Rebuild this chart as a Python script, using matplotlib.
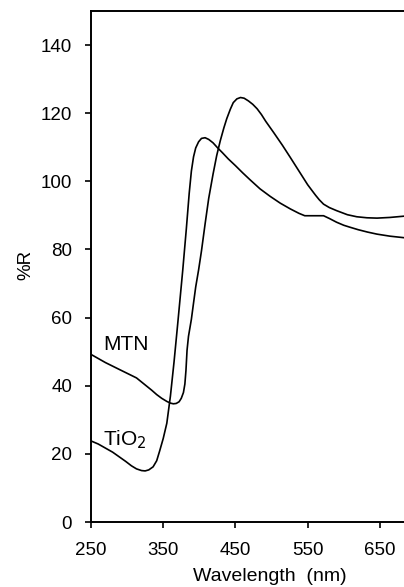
import matplotlib
matplotlib.use("Agg")
import matplotlib.pyplot as plt

# === Data ===
tio2_wl = [250, 260, 270, 280, 290, 298, 306, 313, 320, 325, 330, 336, 341,
           345, 350, 355, 360, 365, 370, 377, 382, 386, 389, 392, 395, 399,
           403, 408, 413, 419, 425, 432, 440, 450, 460, 470, 484, 498, 512,
           526, 538, 546, 572, 580, 590, 600, 609, 620, 633, 646, 664, 690]
tio2_r = [23.8, 22.9, 21.7, 20.5, 19.0, 17.8, 16.5, 15.6, 15.1, 15.0, 15.3,
          16.2, 18.0, 20.8, 24.5, 29.0, 37.0, 47.0, 58.0, 73.8, 86.0, 96.5,
          103.0, 107.2, 109.8, 111.6, 112.6, 112.8, 112.3, 111.3, 109.9,
          108.4, 106.6, 104.6, 102.5, 100.5, 97.8, 95.6, 93.6, 91.9, 90.6,
          89.9, 89.9, 89.1, 88.0, 87.1, 86.5, 85.8, 85.1, 84.5, 83.9, 83.3]

mtn_wl = [250, 270, 290, 313, 320, 327, 334, 341, 348, 355, 360, 364, 368,
          372, 375, 378, 380, 381.5, 383, 385, 387, 389, 391.5, 395, 399,
          403, 408, 413, 419, 424, 429, 434, 438, 443, 447, 452, 457, 462,
          468, 474, 480, 486, 492, 503, 515, 526, 538, 550, 556, 561, 566,
          572, 580, 590, 605, 618, 632, 646, 664, 690]
mtn_r = [49.2, 46.8, 44.7, 42.3, 41.1, 39.9, 38.7, 37.4, 36.3, 35.4, 34.9,
         34.7, 34.8, 35.3, 36.3, 38.0, 40.5, 44.5, 50.4, 54.5, 57.0, 59.5,
         63.5, 69.0, 74.0, 79.6, 87.5, 95.0, 102.1, 107.5, 111.9, 115.7,
         118.4, 121.2, 123.1, 124.2, 124.6, 124.4, 123.6, 122.6, 121.3,
         119.6, 117.6, 114.3, 110.6, 107.0, 103.0, 99.0, 97.3, 95.9, 94.6,
         93.3, 92.3, 91.4, 90.2, 89.6, 89.3, 89.2, 89.4, 89.9]

x_ticks = [250, 350, 450, 550, 650]
y_ticks = [0, 20, 40, 60, 80, 100, 120, 140]

plt.rcParams["font.family"] = ["Liberation Sans", "DejaVu Sans"]

fig = plt.figure(figsize=(4.04, 5.87), dpi=100)
ax = fig.add_axes([0.2252, 0.1107, 0.8045, 0.8706])

ax.plot(tio2_wl, tio2_r, color="black", linewidth=1.2)
ax.plot(mtn_wl, mtn_r, color="black", linewidth=1.2)

ax.set_xlim(250, 700)
ax.set_ylim(0, 150)
ax.set_xticks(x_ticks)
ax.set_yticks(y_ticks)
ax.tick_params(direction="out", length=4.5, width=1.2, labelsize=13.5)
ax.tick_params(axis="x", pad=10)
ax.tick_params(axis="y", pad=9)
ax.spines["right"].set_visible(False)
for s in ["left", "bottom", "top"]:
    ax.spines[s].set_linewidth(1.4)

ax.set_xlabel("Wavelength  (nm)", fontsize=14)
ax.xaxis.set_label_coords(0.55, -0.090)
ax.set_ylabel("%R", fontsize=13.5)
ax.yaxis.set_label_coords(-0.175, 0.503)

ax.text(267, 50.5, "MTN", fontsize=15)
ax.text(267, 22.5, "TiO$_2$", fontsize=15)

fig.savefig("out.png", dpi=100)
